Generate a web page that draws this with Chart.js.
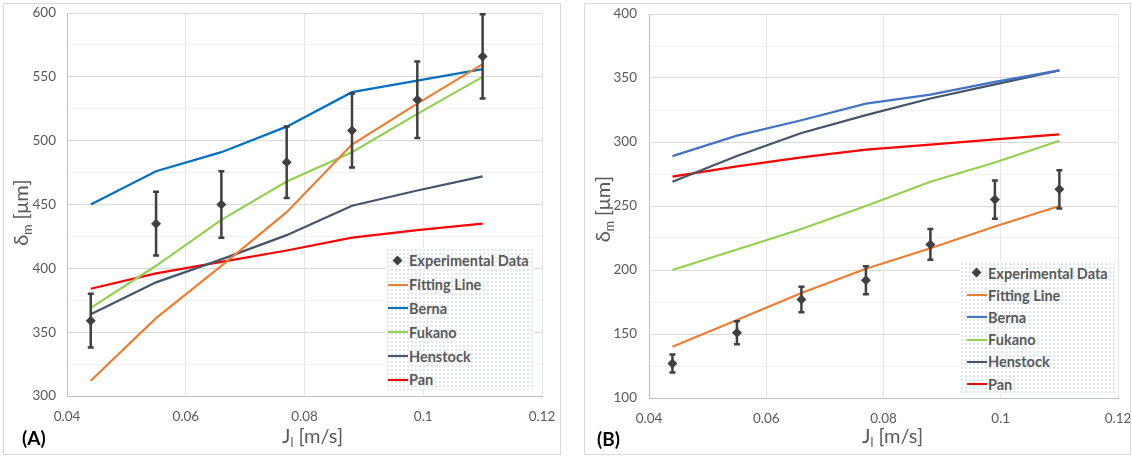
<!DOCTYPE html>
<html>
<head>
<meta charset="utf-8">
<script src="https://cdn.jsdelivr.net/npm/chart.js@4/dist/chart.umd.min.js"></script>
<style>
  html, body { margin: 0; padding: 0; background: #fff; }
  body { width: 1132px; height: 460px; position: relative; overflow: hidden; font-family: Lato, sans-serif; }
  .panel { position: absolute; top: 3px; height: 452px; box-sizing: border-box; border: 1px solid #d9d9d9; }
  .panel canvas { display: block; }
  .tag { position: absolute; font: bold 19px Lato, sans-serif; color: #000; }
  .legend { position: absolute; box-sizing: border-box; background-color: #fff;
    background-image: radial-gradient(circle, #c3d7ee 0.6px, transparent 0.9px);
    background-size: 4px 4px; }
  .legend .row { display: flex; align-items: center; font: bold 14.5px Lato, sans-serif; color: #595959; white-space: nowrap; }
  .legend .sw { width: 20px; height: 20px; position: relative; margin-right: 1px; flex: none; }
  .legend .sw .ln { position: absolute; left: 0; right: 0; top: 9px; height: 2px; }
  .legend .sw .dm { position: absolute; left: 6px; top: 6px; width: 7px; height: 7px; transform: rotate(45deg); }
</style>
</head>
<body>
<div class="panel" id="panelA" style="left:3px;width:558px"><canvas id="chartA" width="556" height="450"></canvas></div>
<div class="panel" id="panelB" style="left:584px;width:547px"><canvas id="chartB" width="545" height="450"></canvas></div>
<div class="tag" style="left:22px;top:426px">(A)</div>
<div class="tag" style="left:597px;top:427px">(B)</div>
<div class="legend" id="legendA" style="left:386px;top:248px;width:148px;height:142px;padding:1px 0 0 2px"></div>
<div class="legend" id="legendB" style="left:960px;top:262px;width:157px;height:131px;padding:0 0 0 7px"></div>
<script>
const jl = [0.044, 0.055, 0.066, 0.077, 0.088, 0.099, 0.11];
const xRange = [0.04, 0.12];
const seriesNames = ['Experimental Data', 'Fitting Line', 'Berna', 'Fukano', 'Henstock', 'Pan'];

// (A)
const yRangeA = [300, 600];
const expA = [359, 435, 450, 483, 508, 532, 566];
const errA = [21, 25, 26, 28, 29, 30, 33];
const fitA = [312, 361, 402, 444, 497, 529, 560];
const bernaA = [450, 476, 491, 511, 538, 547, 556];
const fukanoA = [369, 402, 438, 468, 491, 521, 550];
const henstockA = [364, 389, 407, 426, 449, 461, 472];
const panA = [384, 396, 405, 414, 424, 430, 435];

// (B)
const yRangeB = [100, 400];
const expB = [127, 151, 177, 192, 220, 255, 263];
const errB = [7, 9, 10, 11, 12, 15, 15];
const fitB = [140, 161, 182, 201, 217, 234, 250];
const bernaB = [289, 305, 317, 330, 337, 347, 356];
const fukanoB = [200, 216, 232, 250, 269, 284, 301];
const henstockB = [269, 289, 307, 321, 334, 345, 356];
const panB = [273, 281, 288, 294, 298, 302, 306];

const GREY = '#404040';
const TEXT = '#595959';
Chart.defaults.font.family = 'Lato, sans-serif';
Chart.defaults.color = TEXT;

const pts = arr => jl.map((x, i) => ({ x, y: arr[i] }));

function makeDatasets(exp, err, lines, bernaColor) {
  const colors = ['#ED7D31', bernaColor, '#92D050', '#44546A', '#FF0000'];
  const sets = [{
    label: seriesNames[0], data: pts(exp), errors: err,
    showLine: false, pointStyle: 'rectRot', pointRadius: 5,
    borderColor: GREY, backgroundColor: GREY, pointBorderWidth: 0
  }];
  lines.forEach((arr, i) => sets.push({
    label: seriesNames[i + 1], data: pts(arr),
    borderColor: colors[i], backgroundColor: colors[i],
    borderWidth: 2.2, pointRadius: 0, tension: 0
  }));
  return sets;
}

// vertical error bars with caps for the measured points
const errorBars = {
  id: 'errorBars',
  afterDatasetsDraw(chart) {
    const ds = chart.data.datasets[0];
    if (!ds.errors) return;
    const { ctx, scales: { x, y } } = chart;
    ctx.save();
    ctx.strokeStyle = GREY;
    ctx.lineWidth = 2.5;
    ds.data.forEach((p, i) => {
      const px = x.getPixelForValue(p.x);
      const top = y.getPixelForValue(p.y + ds.errors[i]);
      const bot = y.getPixelForValue(p.y - ds.errors[i]);
      ctx.beginPath();
      ctx.moveTo(px, top); ctx.lineTo(px, bot);
      ctx.moveTo(px - 3, top); ctx.lineTo(px + 3, top);
      ctx.moveTo(px - 3, bot); ctx.lineTo(px + 3, bot);
      ctx.stroke();
    });
    ctx.restore();
  }
};

// axis titles with subscripts (δm, Jl)
function richText(ctx, parts, size) {
  const widths = parts.map(p => {
    ctx.font = (p.sub ? size * 0.62 : size) + 'px Lato, sans-serif';
    return ctx.measureText(p.t).width;
  });
  let cx = -widths.reduce((a, b) => a + b, 0) / 2;
  parts.forEach((p, i) => {
    ctx.font = (p.sub ? size * 0.62 : size) + 'px Lato, sans-serif';
    ctx.fillText(p.t, cx, p.sub ? size * 0.3 : 0);
    cx += widths[i];
  });
}
const axisTitles = {
  id: 'axisTitles',
  afterDraw(chart, args, opts) {
    const { ctx, chartArea: a } = chart;
    ctx.save();
    ctx.fillStyle = TEXT;
    ctx.textBaseline = 'middle';
    ctx.textAlign = 'left';
    ctx.save();
    ctx.translate((a.left + a.right) / 2 + opts.xShift, opts.xTitleY);
    richText(ctx, [{ t: 'J' }, { t: 'l', sub: true }, { t: ' [m/s]' }], 20);
    ctx.restore();
    ctx.save();
    ctx.translate(opts.yTitleX, (a.top + a.bottom) / 2 + opts.yShift);
    ctx.rotate(-Math.PI / 2);
    richText(ctx, [{ t: 'δ' }, { t: 'm', sub: true }, { t: ' [μm]' }], 20);
    ctx.restore();
    ctx.restore();
  }
};

function makeChart(id, datasets, yRange, box) {
  return new Chart(document.getElementById(id), {
    type: 'line',
    data: { datasets },
    plugins: [errorBars, axisTitles],
    options: {
      responsive: false,
      animation: false,
      layout: { padding: { top: box.top, right: box.right, left: 0, bottom: 0 } },
      plugins: {
        legend: { display: false },
        tooltip: { enabled: false },
        axisTitles: box.titles
      },
      scales: {
        x: {
          type: 'linear', min: xRange[0], max: xRange[1],
          ticks: { stepSize: 0.02, padding: 13, font: { size: 13.5 }, maxRotation: 0,
            callback: v => String(+v.toFixed(2)) },
          grid: { color: '#e6e6e6', drawTicks: false },
          border: { color: '#bfbfbf' },
          afterFit: s => { s.height = box.xHeight; s.paddingRight = 0; s.paddingLeft = 0; }
        },
        y: {
          min: yRange[0], max: yRange[1],
          ticks: { stepSize: 25, padding: box.yPad, font: { size: 13.5 },
            callback: v => (v % 50 === 0 ? v : '') },
          grid: { drawTicks: false, color: c => (c.tick && c.tick.value % 50 === 0 ? '#d9d9d9' : '#f2f2f2') },
          border: { color: '#bfbfbf' },
          afterFit: s => { s.width = box.yWidth; s.paddingTop = 0; s.paddingBottom = 0; }
        }
      }
    }
  });
}

function buildLegend(el, chart, rowH) {
  chart.data.datasets.forEach((ds, i) => {
    const row = document.createElement('div');
    row.className = 'row';
    row.style.height = rowH + 'px';
    const sw = document.createElement('div');
    sw.className = 'sw';
    const mark = document.createElement('div');
    mark.className = i === 0 ? 'dm' : 'ln';
    mark.style.background = ds.borderColor;
    sw.appendChild(mark);
    row.appendChild(sw);
    row.appendChild(document.createTextNode(ds.label));
    el.appendChild(row);
  });
}

const chartA = makeChart('chartA',
  makeDatasets(expA, errA, [fitA, bernaA, fukanoA, henstockA, panA], '#0070C0'),
  yRangeA,
  { top: 9, right: 18, yWidth: 63, xHeight: 58, yPad: 11,
    titles: { xShift: 8, xTitleY: 433, yTitleX: 18, yShift: 8 } });

const chartB = makeChart('chartB',
  makeDatasets(expB, errB, [fitB, bernaB, fukanoB, henstockB, panB], '#4472C4'),
  yRangeB,
  { top: 10, right: 12, yWidth: 64, xHeight: 56, yPad: 12,
    titles: { xShift: 9, xTitleY: 433, yTitleX: 19, yShift: 3 } });

buildLegend(document.getElementById('legendA'), chartA, 23.8);
buildLegend(document.getElementById('legendB'), chartB, 22.2);
</script>
</body>
</html>
